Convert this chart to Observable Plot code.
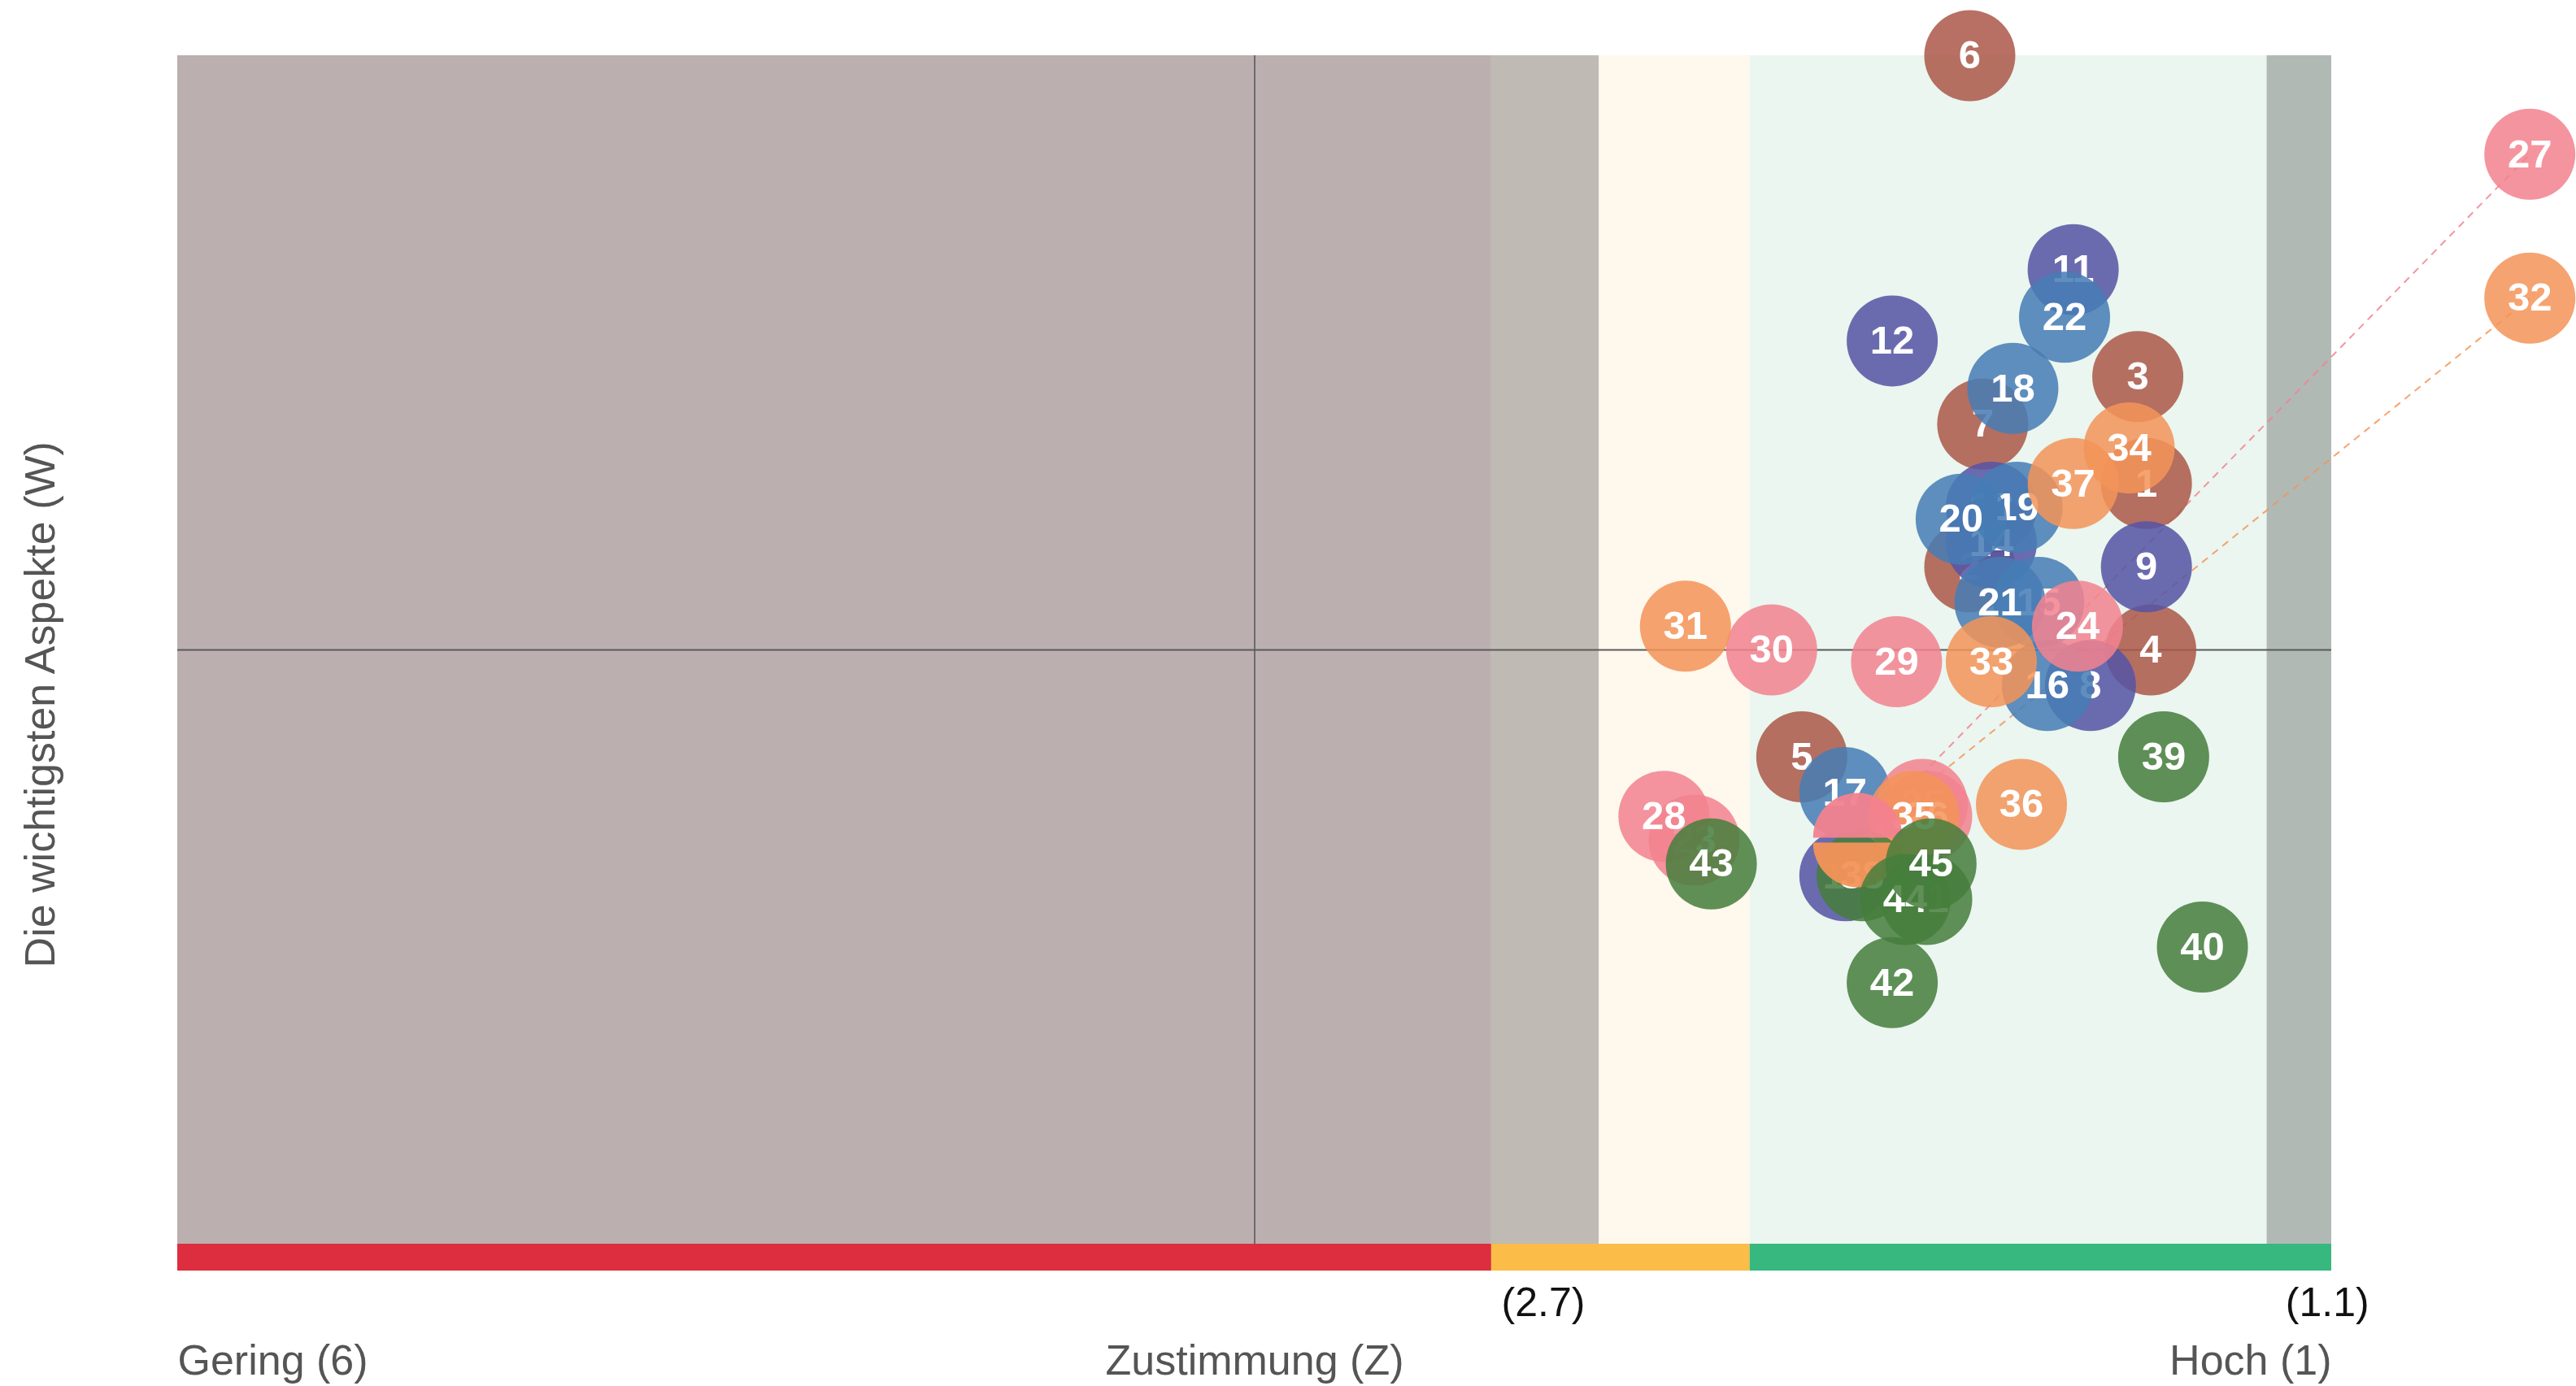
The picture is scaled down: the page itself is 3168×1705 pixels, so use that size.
<!DOCTYPE html>
<html>
<head>
<meta charset="utf-8">
<script src="https://cdn.jsdelivr.net/npm/d3@7"></script>
<script src="https://cdn.jsdelivr.net/npm/@observablehq/plot@0.6"></script>
<style>
  html, body { margin: 0; padding: 0; background: #ffffff; }
  #chart svg { display: block; }
</style>
</head>
<body>
<div id="chart"></div>
<script>
// ---------- data ----------
const ids = [1,2,3,4,5,6,7,8,9,10,11,12,13,14,15,16,17,18,19,20,21,22,23,24,25,26,27,28,29,30,31,32,33,34,35,36,37,38,39,40,41,42,43,44,45];
const gruppe = [1,1,1,1,1,1,1, 2,2,2,2,2,2,2, 3,3,3,3,3,3,3,3, 4,4,4,4,4,4,4,4, 5,5,5,5,5,5,5, 6,6,6,6,6,6,6,6];
// Zustimmung (Z): 6 = gering, 1 = hoch
const zustimmung = [1.43,1.84,1.45,1.42,2.23,1.84,1.81, 1.56,1.43,2.13,1.60,2.02,1.79,1.79,
                    1.68,1.66,2.13,1.74,1.73,1.86,1.77,1.62,
                    2.48,1.59,1.95,1.94,2.10,2.55,2.01,2.30,
                    2.50,2.10,1.79,1.47,1.97,1.72,1.60,
                    2.09,1.39,1.30,1.94,2.02,2.44,1.99,1.93];
// Die wichtigsten Aspekte (W)
const wichtigkeit = [64,57,73,50,41,100,69, 47,57,31,82,76,62,59,
                     54,47,38,72,62,61,54,78,
                     34,52,37,36,34,36,49,50,
                     52,34,49,67,36,37,64,
                     31,41,25,29,22,32,29,32];
// labels moved outside the plot (id, shown position)
const versetztId = [27, 32];
const versetztZ = [0.54, 0.54];
const versetztW = [91.7, 79.6];

// background bands along Z
const bandVon = [6, 2.95, 2.7, 2.35, 1.15];
const bandBis = [2.95, 2.7, 2.35, 1.15, 1];
// colour bar along Z
const balkenVon = [6, 2.95, 2.35];
const balkenBis = [2.95, 2.35, 1];
// threshold labels
const grenzText = ["(2.7)", "(1.1)"];
const grenzZ = [2.83, 1.01];
const achsenText = ["Gering (6)", "Zustimmung (Z)", "Hoch (1)"];
const achsenZ = [6, 3.5, 1];
const yTitel = "Die wichtigsten Aspekte (W)";
const mitteZ = 3.5, mitteW = 50;

// ---------- styles ----------
const palette = ["#ab5949", "#5554a4", "#467db5", "#f2828f", "#f39459", "#467e3d"];
const bandFarben = ["#bbb0af", "#bfbab4", "#fef8ed", "#eaf6ef", "#b1b9b5"];
const balkenFarben = ["#dc2e3e", "#fbbc48", "#36b87e"];
const R = 56, OP = 0.86, FONT = "Liberation Sans, Arial, Helvetica, sans-serif";
const halbNach = 38; // split markers are painted after this point

const data = ids.map((id, i) => ({id, gruppe: gruppe[i], z: zustimmung[i], w: wichtigkeit[i]}));
const moved = new Map(versetztId.map((id, i) => [id, {z: versetztZ[i], w: versetztW[i]}]));

// coincident true positions of moved points are drawn as halves
const halfOf = new Map();
const seen = new Map();
for (const d of data) {
  if (!moved.has(d.id)) continue;
  const key = d.z + "|" + d.w;
  const n = seen.get(key) || 0;
  seen.set(key, n + 1);
  halfOf.set(d.id, n === 0 ? "top" : "bottom");
}
const GAP = 3;
const halfSymbols = {
  top: {draw(ctx, size) { const r = Math.sqrt(size / Math.PI); ctx.moveTo(-r, -GAP); ctx.arc(0, -GAP, r, Math.PI, 2 * Math.PI); ctx.closePath(); }},
  bottom: {draw(ctx, size) { const r = Math.sqrt(size / Math.PI); ctx.moveTo(r, GAP); ctx.arc(0, GAP, r, 0, Math.PI); ctx.closePath(); }}
};

const bands = bandVon.map((v, i) => ({v, b: bandBis[i], c: bandFarben[i]}));
const balken = balkenVon.map((v, i) => ({v, b: balkenBis[i], c: balkenFarben[i]}));
const movedData = data.filter(d => moved.has(d.id));
const links = movedData.map(d => ({...d, z2: moved.get(d.id).z, w2: moved.get(d.id).w}));

const labelOpts = {x: "z", y: "w", text: d => String(d.id), fill: "white", fontSize: 49, fontWeight: "bold"};
const pointMarks = data.flatMap(d => {
  const out = [];
  const m = moved.get(d.id);
  const s = m ? {...d, z: m.z, w: m.w} : d;
  out.push(Plot.dot([s], {x: "z", y: "w", r: R, fill: "gruppe", fillOpacity: OP}));
  out.push(Plot.text([s], labelOpts));
  if (d.id === halbNach) {
    for (const h of movedData) {
      out.push(Plot.dot([h], {x: "z", y: "w", r: R - 1, fill: "gruppe", fillOpacity: 0.95, symbol: halfSymbols[halfOf.get(h.id)]}));
    }
  }
  return out;
});

const chart = Plot.plot({
  width: 3168,
  height: 1705,
  marginLeft: 218,
  marginRight: 301,
  marginTop: 68,
  marginBottom: 175,
  style: {fontFamily: FONT, background: "#ffffff", overflow: "visible"},
  x: {domain: [6, 1], axis: null},
  y: {domain: [0, 100], axis: null},
  color: {type: "ordinal", domain: [1, 2, 3, 4, 5, 6], range: palette},
  marks: [
    ...bands.map(b => Plot.rect([b], {x1: "v", x2: "b", y1: 0, y2: 100, fill: b.c})),
    ...balken.map(b => Plot.rect([b], {x1: "v", x2: "b", y1: 0, y2: 0, insetBottom: -33, fill: b.c})),
    Plot.ruleX([mitteZ], {y1: 0, y2: 100, stroke: "#5a5a5a", strokeWidth: 1.6}),
    Plot.ruleY([mitteW], {x1: 6, x2: 1, stroke: "#5a5a5a", strokeWidth: 2}),
    Plot.link(links, {x1: "z", y1: "w", x2: "z2", y2: "w2", stroke: "gruppe", strokeWidth: 2, strokeOpacity: 0.85, strokeDasharray: "9,7"}),
    ...pointMarks,
    Plot.text(grenzText, {x: (d, i) => grenzZ[i], text: d => d, frameAnchor: "bottom", dy: 88, fontSize: 50, fill: "#111", textAnchor: "middle"}),
    Plot.text([achsenText[0]], {x: achsenZ[0], text: d => d, frameAnchor: "bottom", dy: 160, fontSize: 52, fill: "#555", textAnchor: "start"}),
    Plot.text([achsenText[1]], {x: achsenZ[1], text: d => d, frameAnchor: "bottom", dy: 160, fontSize: 52, fill: "#555", textAnchor: "middle"}),
    Plot.text([achsenText[2]], {x: achsenZ[2], text: d => d, frameAnchor: "bottom", dy: 160, fontSize: 52, fill: "#555", textAnchor: "end"}),
    Plot.text([yTitel], {y: 45.4, text: d => d, frameAnchor: "left", dx: -168, rotate: -90, fontSize: 52, fill: "#555", textAnchor: "middle"})
  ]
});
document.getElementById("chart").appendChild(chart);
</script>
</body>
</html>
